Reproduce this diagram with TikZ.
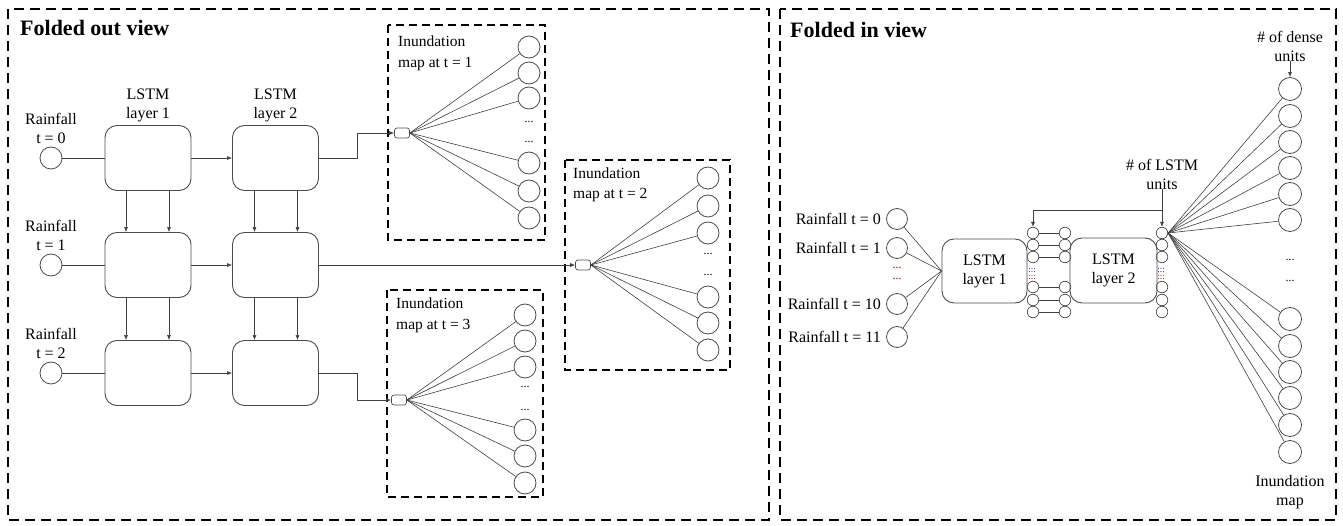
\documentclass[tikz,border=0pt]{standalone}
\usepackage{fontspec}
\setmainfont{Liberation Serif}
\usetikzlibrary{arrows.meta}
\begin{document}
\begin{tikzpicture}[x=1pt,y=-1pt,
 frame/.style={draw=black, line width=2.8pt, dash pattern=on 10pt off 6pt},
 subframe/.style={draw=black, line width=2.3pt, dash pattern=on 8pt off 5pt},
 lstm/.style={draw=black!70, line width=0.9pt, rounded corners=12pt, minimum width=86pt, minimum height=65pt, inner sep=0pt, font=\fontsize{16}{19}\selectfont, align=center},
 inc/.style={circle, draw=black!70, line width=0.8pt, minimum size=22pt, inner sep=0pt},
 dc/.style={circle, draw=black!70, line width=0.8pt, minimum size=23pt, inner sep=0pt},
 sc/.style={circle, draw=black!70, line width=0.7pt, minimum size=11.5pt, inner sep=0pt},
 outbox/.style={draw=black!70, rounded corners=2.5pt, minimum width=15pt, minimum height=10pt, inner sep=0pt, line width=0.7pt},
 lbl/.style={font=\fontsize{16}{19}\selectfont, align=center, inner sep=0pt},
 ilbl/.style={font=\fontsize{15.5}{19}\selectfont, anchor=base west, inner sep=0pt},
 dotlbl/.style={font=\fontsize{12}{12}\selectfont, inner sep=0pt},
 conn/.style={draw=black!75, line width=0.6pt},
 arr/.style={conn, -{Latex[length=5pt,width=4pt]}},
]
\useasboundingbox (0,0) rectangle (1343,526);
% ---------------- frames ----------------
\draw[frame] (8,9) rectangle (769,520);
\draw[frame] (780,9) rectangle (1336,520);
\node[anchor=west, inner sep=0pt, font=\bfseries\fontsize{22}{26}\selectfont] (tout) at (20,28) {Folded out view};
\node[anchor=west, inner sep=0pt, font=\bfseries\fontsize{22}{26}\selectfont] (tin) at (790,30) {Folded in view};
% ---------------- folded out ----------------
\node[lbl] (lab1) at (148,105) {LSTM\\layer 1};
\node[lbl] (lab2) at (275.5,105) {LSTM\\layer 2};
\foreach \i/\y/\t in {1/158/0,2/265/1,3/373/2}{
  \node[inc] (r\i) at (51,\y) {};
  \node[lbl] (rl\i) at (51,\y-30) {Rainfall\\t = \t};
  \node[lstm] (a\i) at (148,\y) {};
  \node[lstm] (b\i) at (275.5,\y) {};
  \draw[conn] (r\i) -- (a\i);
  \draw[arr] (a\i) -- (b\i);
}
\foreach \u/\v in {1/2,2/3}{
  \draw[arr] ([xshift=-22pt]a\u.south) -- ([xshift=-22pt]a\v.north);
  \draw[arr] ([xshift=21pt]a\u.south) -- ([xshift=21pt]a\v.north);
  \draw[arr] ([xshift=-21pt]b\u.south) -- ([xshift=-21pt]b\v.north);
  \draw[arr] ([xshift=22pt]b\u.south) -- ([xshift=22pt]b\v.north);
}
% dense box 1
\draw[subframe] (388,25) rectangle (545,240);
\node[ilbl] (i1a) at (398,47) {Inundation};
\node[ilbl] (i1b) at (398,68) {map at t = 1};
\node[outbox] (o1) at (402,133) {};
\foreach \k/\y in {1/47,2/73,3/98,4/163,5/191,6/218}{
  \node[inc] (p\k) at (529,\y) {};
  \draw[conn] (o1.east) -- (p\k);
}
\node[dotlbl] (pd1) at (529,122) {...};
\node[dotlbl] (pd2) at (529,142) {...};
% dense box 2
\draw[subframe] (565,160) rectangle (730,370);
\node[ilbl] (i2a) at (573,178.5) {Inundation};
\node[ilbl] (i2b) at (573,199) {map at t = 2};
\node[outbox] (o2) at (583,265) {};
\foreach \k/\y in {1/178,2/206,3/233,4/297,5/323,6/350}{
  \node[inc] (q\k) at (708,\y) {};
  \draw[conn] (o2.east) -- (q\k);
}
\node[dotlbl] (qd1) at (708,254) {...};
\node[dotlbl] (qd2) at (708,275) {...};
% dense box 3
\draw[subframe] (387,290) rectangle (543,497);
\node[ilbl] (i3a) at (396,308.5) {Inundation};
\node[ilbl] (i3b) at (396,330) {map at t = 3};
\node[outbox] (o3) at (399,400) {};
\foreach \k/\y in {1/315,2/341,3/367,4/430,5/456,6/483}{
  \node[inc] (s\k) at (525,\y) {};
  \draw[conn] (o3.east) -- (s\k);
}
\node[dotlbl] (sd1) at (525,387) {...};
\node[dotlbl] (sd2) at (525,410) {...};
% outputs
\draw[arr] (b1.east) -- ++(38,0) |- (o1.west);
\draw[arr] (b2.east) -- (o2.west);
\draw[arr] (b3.east) -- ++(38,0) |- (o3.west);
% ---------------- folded in ----------------
\node[lstm, minimum width=85pt, minimum height=64pt] (L1) at (984.5,271) {LSTM\\layer 1};
\node[lstm, minimum width=87pt, minimum height=65pt] (L2) at (1113.5,270.5) {LSTM\\layer 2};
\foreach \i/\y/\t in {0/219/0,1/248/1,10/304/10,11/337/11}{
  \node[circle, draw=black!70, line width=0.8pt, minimum size=21pt, inner sep=0pt] (R\i) at (897,\y) {};
  \node[lbl, anchor=east] (RL\i) at (881,\y) {Rainfall t = \t};
  \draw[conn] (R\i) -- (L1.west);
}
\node[dotlbl, text=red!45!black] (Rd1) at (897,268) {...};
\node[dotlbl, text=red!45!black] (Rd2) at (897,279) {...};
\foreach \k/\y in {1/233,2/245,3/257,4/287,5/300,6/312}{
  \node[sc] (A\k) at (1033,\y) {};
  \node[sc] (B\k) at (1065,\y) {};
  \node[sc] (C\k) at (1162,\y) {};
  \draw[conn] (A\k) -- (B\k);
}
\foreach \x/\n in {1032/A,1161/C}{
  \node[font=\fontsize{9}{9}\selectfont, inner sep=0pt, text=blue!50!black] (\n da) at (\x,270) {:::};
  \node[font=\fontsize{9}{9}\selectfont, inner sep=0pt, text=red!50!black] (\n db) at (\x,277) {:::};
}
\node[lbl] (lstmu) at (1162,174) {\# of LSTM\\units};
\coordinate (br) at (1162,210);
\draw[arr] (lstmu.south) -- (C1.north);
\draw[arr] (br) -| (A1.north);
\foreach \k/\y in {1/89,2/116,3/142,4/168,5/194,6/220,7/319,8/346,9/372,10/398,11/425,12/452}{
  \node[dc] (D\k) at (1290,\y) {};
  \draw[conn] (C1.east) -- (D\k);
}
\node[dotlbl] (Dd1) at (1290,260) {...};
\node[dotlbl] (Dd2) at (1290,281) {...};
\node[lbl] (densu) at (1290,46) {\# of dense\\units};
\draw[arr] (densu.south) -- (D1.north);
\node[lbl] (inmap) at (1290,492) {Inundation\\map};
\end{tikzpicture}
\end{document}
